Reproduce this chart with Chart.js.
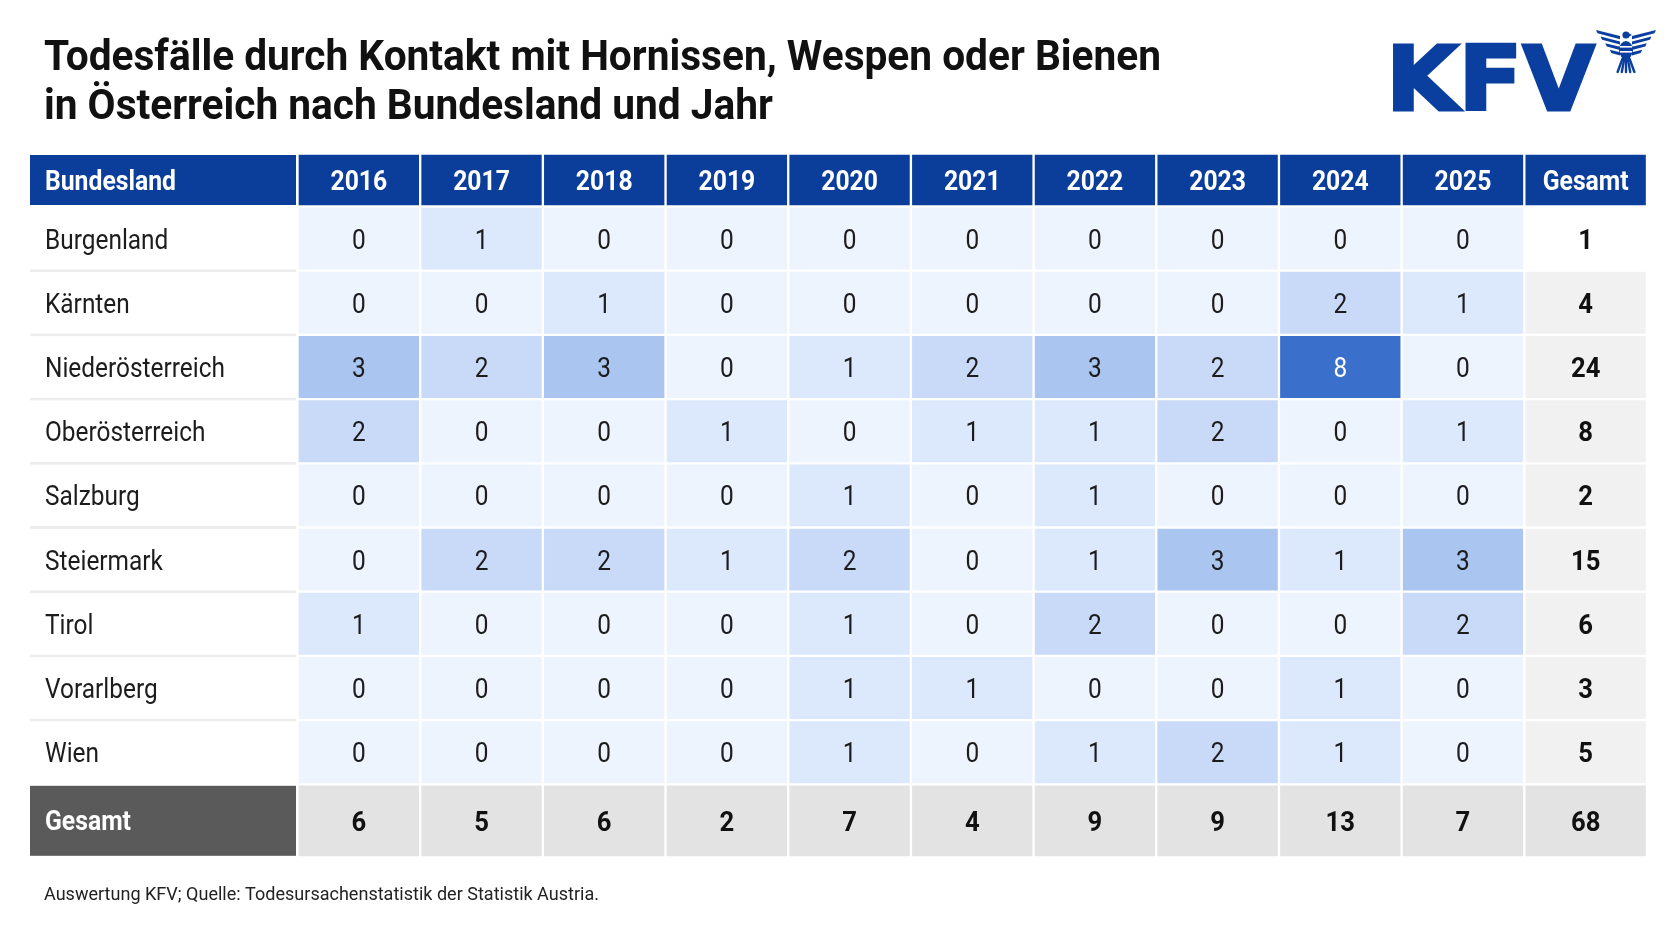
<!DOCTYPE html>
<html lang="de">
<head>
<meta charset="utf-8">
<title>Todesfälle durch Kontakt mit Hornissen, Wespen oder Bienen</title>
<script src="https://cdn.jsdelivr.net/npm/chart.js@4.4.1/dist/chart.umd.min.js"></script>
<style>
  html, body { margin: 0; padding: 0; background: #ffffff; }
  #wrap { position: relative; width: 1672px; height: 941px; }
</style>
</head>
<body>
<div id="wrap"><canvas id="c"></canvas></div>
<script>
// ---------------- DATA ----------------
const TITLE_LINES = [
  'Todesfälle durch Kontakt mit Hornissen, Wespen oder Bienen',
  'in Österreich nach Bundesland und Jahr'
];
const FOOTER = 'Auswertung KFV; Quelle: Todesursachenstatistik der Statistik Austria.';
const HEAD_LABEL = 'Bundesland';
const TOTAL_LABEL = 'Gesamt';
const YEARS = ['2016','2017','2018','2019','2020','2021','2022','2023','2024','2025'];
const STATES = ['Burgenland','Kärnten','Niederösterreich','Oberösterreich','Salzburg','Steiermark','Tirol','Vorarlberg','Wien'];
const BURGENLAND       = [0,1,0,0,0,0,0,0,0,0];
const KAERNTEN         = [0,0,1,0,0,0,0,0,2,1];
const NIEDEROESTERREICH= [3,2,3,0,1,2,3,2,8,0];
const OBEROESTERREICH  = [2,0,0,1,0,1,1,2,0,1];
const SALZBURG         = [0,0,0,0,1,0,1,0,0,0];
const STEIERMARK       = [0,2,2,1,2,0,1,3,1,3];
const TIROL            = [1,0,0,0,1,0,2,0,0,2];
const VORARLBERG       = [0,0,0,0,1,1,0,0,1,0];
const WIEN             = [0,0,0,0,1,0,1,2,1,0];
const STATE_TOTALS = [1,4,24,8,2,15,6,3,5];
const YEAR_TOTALS  = [6,5,6,2,7,4,9,9,13,7];
const GRAND_TOTAL  = 68;
const VALUES = [BURGENLAND,KAERNTEN,NIEDEROESTERREICH,OBEROESTERREICH,SALZBURG,STEIERMARK,TIROL,VORARLBERG,WIEN];

// ---------------- STYLE / LAYOUT ----------------
const BLUE = '#0b3e9b';
const LOGO_BLUE = '#0a3f9f';
const FONT = 'Roboto, "Liberation Sans", sans-serif';
const CAP = 0.711;
const T = { left: 30, top: 153.5, labelRight: 297.5, right: 1647, headerH: 53, rowH: 64.2, totalH: 73, inset: 1.5 };
const HEAT_STOPS = [[0,'#eef4fd'],[1,'#dce8fb'],[2,'#c8daf7'],[3,'#a9c5f0'],[8,'#3b6fcc']];

function hex2rgb(h){ return [parseInt(h.slice(1,3),16),parseInt(h.slice(3,5),16),parseInt(h.slice(5,7),16)]; }
function heat(v){
  for (let i=0;i<HEAT_STOPS.length-1;i++){
    const [a,ca]=HEAT_STOPS[i], [b,cb]=HEAT_STOPS[i+1];
    if (v<=b){
      const t=(v-a)/(b-a), A=hex2rgb(ca), B=hex2rgb(cb);
      return 'rgb('+A.map((x,k)=>Math.round(x+(B[k]-x)*t)).join(',')+')';
    }
  }
  return HEAT_STOPS[HEAT_STOPS.length-1][1];
}

const COLS = [...YEARS, TOTAL_LABEL];
const ROW_HEIGHTS = [T.headerH, ...STATES.map(()=>T.rowH), T.totalH];
const EDGES = [0];
ROW_HEIGHTS.forEach(h => EDGES.push(EDGES[EDGES.length-1]+h));
const SPAN = EDGES[EDGES.length-1];

// table rows -> datasets
const rows = [];
rows.push({ label: HEAD_LABEL, texts: COLS, bg: COLS.map(()=>BLUE), color: COLS.map(()=>'#ffffff'), bold: true });
STATES.forEach((s,i)=>{
  const vals = VALUES[i];
  rows.push({
    label: s,
    texts: [...vals.map(String), String(STATE_TOTALS[i])],
    bg: [...vals.map(heat), i===0 ? '#ffffff' : '#f1f1f1'],
    color: [...vals.map(v => v>=6 ? '#ffffff' : '#1c1c1c'), '#111111'],
    boldCols: [YEARS.length],
    bold: false
  });
});
rows.push({ label: TOTAL_LABEL, texts: [...YEAR_TOTALS.map(String), String(GRAND_TOTAL)], bg: COLS.map(()=>'#e3e3e3'), color: COLS.map(()=>'#111111'), bold: true });

const datasets = rows.map((r, ri) => ({
  label: r.label,
  data: COLS.map(() => [EDGES[ri], EDGES[ri+1]]),
  backgroundColor: r.bg,
  borderColor: '#ffffff',
  borderWidth: T.inset,
  borderSkipped: false,
  grouped: false,
  barPercentage: 1,
  categoryPercentage: 1,
  cellTexts: r.texts,
  cellColors: r.color,
  cellBold: r.bold,
  boldCols: r.boldCols || []
}));

// ---------------- TEXT HELPERS ----------------
function fitScale(ctx, text, size, weight, target){
  ctx.save(); ctx.font = `${weight} ${size}px ${FONT}`;
  const w = ctx.measureText(text).width; ctx.restore();
  return target / w;
}
function txt(ctx, text, x, cy, size, weight, color, align, sx){
  ctx.save();
  ctx.font = `${weight} ${size}px ${FONT}`;
  ctx.fillStyle = color;
  ctx.textAlign = align;
  ctx.textBaseline = 'alphabetic';
  ctx.translate(x, cy + size*CAP/2);
  ctx.scale(sx, 1);
  ctx.fillText(text, 0, 0);
  ctx.restore();
}

function drawEagle(ctx, cx, top){
  ctx.save();
  ctx.fillStyle = LOGO_BLUE; ctx.strokeStyle = LOGO_BLUE;
  for (let i=0;i<4;i++){
    const yIn = top + 7 + i*5.4;
    const len = 24 - i*4.6;
    const rise = 6 - i*1.2;
    [-1,1].forEach(s=>{
      ctx.beginPath();
      ctx.moveTo(cx + s*6, yIn);
      ctx.lineTo(cx + s*(6+len), yIn - rise);
      ctx.lineTo(cx + s*(6+len-1.5), yIn - rise + 3.2);
      ctx.lineTo(cx + s*6, yIn + 3.2);
      ctx.closePath(); ctx.fill();
    });
  }
  ctx.beginPath(); ctx.arc(cx, top+6, 3.6, 0, Math.PI*2); ctx.fill();
  ctx.beginPath(); ctx.moveTo(cx+2, top+4); ctx.lineTo(cx+6, top+6); ctx.lineTo(cx+2, top+8); ctx.fill();
  ctx.beginPath(); ctx.ellipse(cx, top+21, 7, 9, 0, 0, Math.PI*2); ctx.fill();
  ctx.fillStyle = '#ffffff';
  ctx.fillRect(cx-6, top+17, 12, 1.6);
  ctx.fillRect(cx-6, top+22, 12, 1.6);
  ctx.lineWidth = 2.4; ctx.lineCap = 'round';
  for (let k=-2;k<=2;k++){
    ctx.beginPath(); ctx.moveTo(cx + k*1.6, top+29); ctx.lineTo(cx + k*4.2, top+43); ctx.stroke();
  }
  ctx.restore();
}

const tablePlugin = {
  id: 'tablePlugin',
  beforeDatasetsDraw(chart){
    const ctx = chart.ctx, y = chart.scales.y, ca = chart.chartArea;
    const x0 = T.left, x1 = ca.left - T.inset;
    const sxLab = fitScale(ctx, 'Niederösterreich', 28, 400, 180);
    const sxHead = fitScale(ctx, HEAD_LABEL, 27, 700, 131);
    rows.forEach((r, ri) => {
      const top = y.getPixelForValue(EDGES[ri]) + T.inset;
      const bot = y.getPixelForValue(EDGES[ri+1]) - T.inset;
      const isHead = ri === 0, isTot = ri === rows.length-1;
      if (!isHead && !isTot && ri < rows.length-2){
        ctx.fillStyle = '#ededed';
        ctx.fillRect(x0, bot, x1-x0, 2*T.inset);
      }
      ctx.fillStyle = isHead ? BLUE : (isTot ? '#5a5a5a' : '#ffffff');
      ctx.fillRect(x0, top, x1-x0, bot-top);
      const cy = (top+bot)/2;
      if (isHead || isTot) txt(ctx, r.label, 45, cy, 27, 700, '#ffffff', 'left', sxHead);
      else txt(ctx, r.label, 45, cy, 28, 400, '#1c1c1c', 'left', sxLab);
    });
  },
  afterDatasetsDraw(chart){
    const ctx = chart.ctx;
    const sxLab = fitScale(ctx, 'Niederösterreich', 28, 400, 180);
    const sxHead = fitScale(ctx, HEAD_LABEL, 27, 700, 131);
    chart.data.datasets.forEach((ds, di) => {
      const meta = chart.getDatasetMeta(di);
      meta.data.forEach((el, j) => {
        const p = el.getProps(['x','y','base'], true);
        const cy = (p.y + p.base)/2;
        const bold = ds.cellBold || ds.boldCols.includes(j);
        if (di === 0) txt(ctx, ds.cellTexts[j], p.x, cy, 27, 700, ds.cellColors[j], 'center', sxHead);
        else if (bold) txt(ctx, ds.cellTexts[j], p.x, cy, 28, 700, ds.cellColors[j], 'center', sxHead);
        else txt(ctx, ds.cellTexts[j], p.x, cy, 28, 400, ds.cellColors[j], 'center', sxLab);
      });
    });
  },
  afterDraw(chart){
    const ctx = chart.ctx;
    const sxT = fitScale(ctx, TITLE_LINES[0], 42, 700, 1117);
    txt(ctx, TITLE_LINES[0], 44, 55, 42, 700, '#111111', 'left', sxT);
    txt(ctx, TITLE_LINES[1], 44, 104, 42, 700, '#111111', 'left', sxT);
    const sxF = fitScale(ctx, FOOTER, 19, 400, 555);
    txt(ctx, FOOTER, 44, 893, 19, 400, '#222222', 'left', sxF);
    ctx.save();
    ctx.font = `bold 89px "DejaVu Sans", sans-serif`;
    const w = ctx.measureText('KFV').width;
    ctx.translate(1386, 110);
    ctx.scale(209 / w, 1);
    ctx.fillStyle = LOGO_BLUE; ctx.strokeStyle = LOGO_BLUE; ctx.lineWidth = 3; ctx.lineJoin = 'miter';
    ctx.textBaseline = 'alphabetic';
    ctx.fillText('KFV', 0, 0);
    ctx.strokeText('KFV', 0, 0);
    ctx.restore();
    drawEagle(ctx, 1626, 29);
  }
};

function build(){
  new Chart(document.getElementById('c'), {
    type: 'bar',
    data: { labels: COLS, datasets },
    options: {
      responsive: true,
      maintainAspectRatio: false,
      animation: false,
      layout: { padding: { top: T.top, bottom: 941 - T.top - SPAN, left: T.labelRight, right: 1672 - T.right } },
      scales: {
        x: { type: 'category', display: false, offset: true, grid: { display: false } },
        y: { type: 'linear', display: false, reverse: true, min: 0, max: SPAN, grid: { display: false } }
      },
      plugins: { legend: { display: false }, tooltip: { enabled: false }, title: { display: false } }
    },
    plugins: [tablePlugin]
  });
}
if (document.fonts && document.fonts.load) {
  Promise.all([document.fonts.load('400 28px Roboto'), document.fonts.load('700 28px Roboto'), document.fonts.load('bold 89px "DejaVu Sans"')]).then(build, build);
} else build();
</script>
</body>
</html>
